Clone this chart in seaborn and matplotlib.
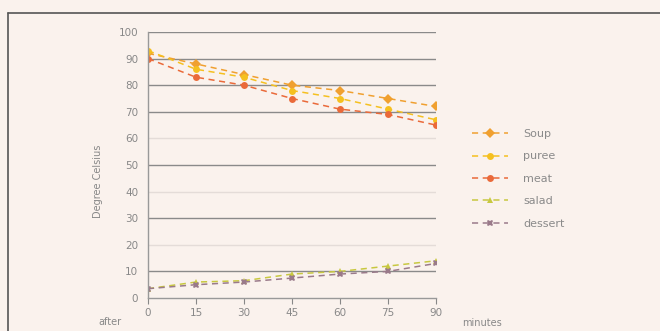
import matplotlib
matplotlib.use("Agg")
import matplotlib.pyplot as plt
from matplotlib.lines import Line2D
import seaborn as sns
import pandas as pd

minutes = [0, 15, 30, 45, 60, 75, 90]
soup = [92, 88, 84, 80, 78, 75, 72]
puree = [93, 86, 83, 78, 75, 71, 67]
meat = [90, 83, 80, 75, 71, 69, 65]
salad = [3.5, 6, 6.5, 9, 10, 12, 14]
dessert = [3.5, 5, 6, 7.5, 9, 10, 13]
series_names = ["Soup", "puree", "meat", "salad", "dessert"]
y_ticks = [0, 10, 20, 30, 40, 50, 60, 70, 80, 90, 100]

colors = ["#f0a030", "#f5c020", "#ea6a3a", "#c8c840", "#9a7a8a"]
markers = ["D", "o", "o", "^", "X"]

rows = []
for name, vals in zip(series_names, [soup, puree, meat, salad, dessert]):
    for m, v in zip(minutes, vals):
        rows.append({"minutes": m, "temp": v, "dish": name})
df = pd.DataFrame(rows)

sns.set_theme(style="white")
plt.rcParams["font.family"] = ["DejaVu Sans"]

fig = plt.figure(figsize=(6.6, 3.31), dpi=100)
bg = "#faf2ed"
fig.patch.set_facecolor(bg)
ax = fig.add_axes([148 / 660, 1 - 298 / 331, (436 - 148) / 660, (298 - 32) / 331])
ax.set_facecolor(bg)

for t in y_ticks[1:]:
    c = "#8a8a8a" if t in (10, 30, 50, 70, 80, 90, 100) else "#e4dcd8"
    ax.axhline(t, color=c, lw=1.0, zorder=0)

sns.lineplot(data=df, x="minutes", y="temp", hue="dish", style="dish",
             palette=colors, markers=markers, dashes=[(4, 3)] * 5,
             hue_order=series_names, style_order=series_names,
             markersize=5, markeredgewidth=0, lw=1.1, ax=ax, legend=False)

ax.set_xlim(0, 90)
ax.set_ylim(0, 100)
ax.set_xticks(minutes)
ax.set_yticks(y_ticks)
ax.tick_params(axis="both", labelsize=7.5, colors="#888888", length=4, width=0.8,
               direction="out", pad=3)
ax.tick_params(axis="x", bottom=True, labelcolor="#888888")
ax.tick_params(axis="y", left=False, labelcolor="#888888")
for s in ["top", "right"]:
    ax.spines[s].set_visible(False)
for s in ["left", "bottom"]:
    ax.spines[s].set_color("#999999")
    ax.spines[s].set_linewidth(1.0)
ax.set_xlabel("")
ax.set_ylabel("Degree Celsius", fontsize=7, color="#888888")
ax.yaxis.set_label_coords(-0.155, 0.44)

fig.text(110 / 660, 1 - 322 / 331, "after", fontsize=7, color="#888888",
         ha="center", va="center")
fig.text(482 / 660, 1 - 323 / 331, "minutes", fontsize=7, color="#888888",
         ha="center", va="center")

handles = [Line2D([0], [0], color=c, marker=mk, ls=(0, (4, 3)), lw=1.1,
                  markersize=5, markeredgewidth=0) for c, mk in zip(colors, markers)]
fig.legend(handles, series_names, loc="upper left",
           bbox_to_anchor=(462 / 660, 1 - 119 / 331), frameon=False,
           fontsize=8, labelcolor="#8a8a8a", handlelength=3.2,
           handletextpad=1.4, labelspacing=1.12)

fig.add_artist(Line2D([8 / 660, 1], [1 - 13 / 331, 1 - 13 / 331], color="#555555", lw=1.2,
                      transform=fig.transFigure))
fig.add_artist(Line2D([8 / 660, 8 / 660], [0, 1 - 13 / 331], color="#555555", lw=1.2,
                      transform=fig.transFigure))

fig.savefig("out.png", dpi=100, facecolor=bg)
